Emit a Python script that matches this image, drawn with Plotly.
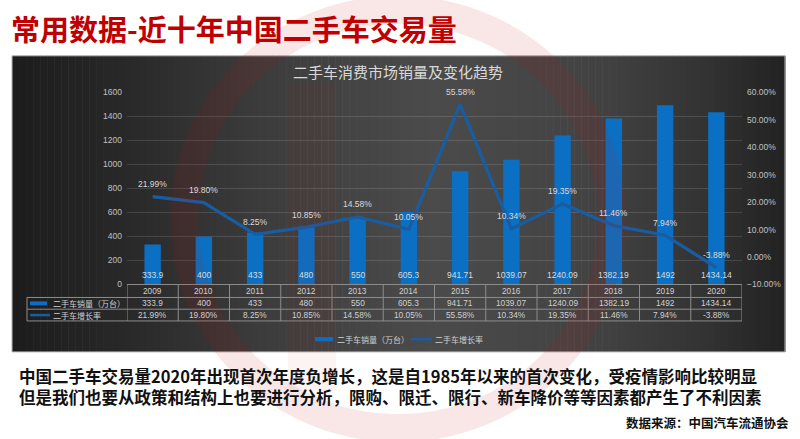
import plotly.graph_objects as go

# ---------------- data ----------------
years = ["2009", "2010", "2011", "2012", "2013", "2014",
         "2015", "2016", "2017", "2018", "2019", "2020"]
sales = [333.9, 400, 433, 480, 550, 605.3, 941.71, 1039.07, 1240.09, 1382.19, 1492, 1434.14]
sales_labels = ["333.9", "400", "433", "480", "550", "605.3", "941.71",
                "1039.07", "1240.09", "1382.19", "1492", "1434.14"]
growth = [21.99, 19.80, 8.25, 10.85, 14.58, 10.05, 55.58, 10.34, 19.35, 11.46, 7.94, -3.88]
growth_labels = ["21.99%", "19.80%", "8.25%", "10.85%", "14.58%", "10.05%", "55.58%",
                 "10.34%", "19.35%", "11.46%", "7.94%", "-3.88%"]

series_sales_name = "二手车销量（万台）"
series_growth_name = "二手车增长率"
page_title = "常用数据-近十年中国二手车交易量"
chart_title = "二手车消费市场销量及变化趋势"
body_lines = ["中国二手车交易量2020年出现首次年度负增长，这是自1985年以来的首次变化，受疫情影响比较明显",
              "但是我们也要从政策和结构上也要进行分析，限购、限迁、限行、新车降价等等因素都产生了不利因素"]
source_text = "数据来源：中国汽车流通协会"

# ---------------- styling ----------------
W, H = 800, 439
BAR_COLOR = "#0B70C4"
LINE_COLOR = "#1A5CA0"
LABEL_COLOR = "#d9d9d9"
TICK_COLOR = "#c0c0c0"
GRID_COLOR = "rgba(255,255,255,0.13)"
TABLE_LINE = "#8c8c8c"
NUM_FONT = "Liberation Sans, Arial, sans-serif"
CJK_FONT = "Noto Sans CJK SC, sans-serif"


def px(x):
    return x / W


def py(y):
    return 1 - y / H


PANEL_L, PANEL_R, PANEL_T, PANEL_B = 12, 785, 52, 355
PLOT_L, PLOT_R, PLOT_T, PLOT_B = 127, 742, 89.3, 286
ROW1_B, ROW2_B, ROW3_B = 299.3, 311.3, 323.3
TABLE_LEFT = 27

fig = go.Figure()

fig.add_trace(go.Bar(
    x=years, y=sales, width=0.32, marker=dict(color=BAR_COLOR, line=dict(width=0)),
    name=series_sales_name, showlegend=False, hoverinfo="skip"))
fig.add_trace(go.Scatter(
    x=years, y=growth, yaxis="y2", mode="lines",
    line=dict(color=LINE_COLOR, width=3.3), name=series_growth_name,
    showlegend=False, hoverinfo="skip"))

shapes = []
# panel background gradient (vertical strips)
keys = [(12, 28), (120, 40), (260, 60), (430, 75), (600, 66), (700, 52), (785, 34)]


def shade(x):
    for (x0, v0), (x1, v1) in zip(keys[:-1], keys[1:]):
        if x0 <= x <= x1:
            t = (x - x0) / (x1 - x0)
            return v0 + (v1 - v0) * t
    return keys[-1][1]


N = 110
step = (PANEL_R - PANEL_L) / N
for i in range(N):
    xa = PANEL_L + i * step
    v = int(round(shade(xa + step / 2)))
    shapes.append(dict(type="rect", xref="paper", yref="paper", layer="below",
                       x0=px(xa), x1=px(xa + step + 0.6), y0=py(PANEL_B), y1=py(PANEL_T),
                       fillcolor=f"rgb({v},{v},{v})", line=dict(width=0)))
shapes.append(dict(type="rect", xref="paper", yref="paper", layer="below",
                   x0=px(PANEL_L), x1=px(PANEL_R), y0=py(PANEL_B), y1=py(PANEL_T),
                   fillcolor="rgba(0,0,0,0)", line=dict(color="#b5b5b5", width=1)))

# data table lines
tl = dict(color=TABLE_LINE, width=1)
shapes.append(dict(type="line", xref="paper", yref="paper", x0=px(PLOT_L), x1=px(PLOT_R),
                   y0=py(PLOT_B), y1=py(PLOT_B), line=tl))
for yy in (ROW1_B, ROW2_B, ROW3_B):
    shapes.append(dict(type="line", xref="paper", yref="paper", x0=px(TABLE_LEFT), x1=px(PLOT_R),
                       y0=py(yy), y1=py(yy), line=tl))
shapes.append(dict(type="line", xref="paper", yref="paper", x0=px(TABLE_LEFT), x1=px(TABLE_LEFT),
                   y0=py(ROW1_B), y1=py(ROW3_B), line=tl))
for k in range(len(years) + 1):
    shapes.append(dict(type="line", xref="x", yref="paper", x0=k - 0.5, x1=k - 0.5,
                       y0=py(PLOT_B), y1=py(ROW3_B), line=tl))

# legend keys inside table
shapes.append(dict(type="rect", xref="paper", yref="paper", x0=px(30), x1=px(47),
                   y0=py(307.3), y1=py(303.3), fillcolor=BAR_COLOR, line=dict(width=0)))
shapes.append(dict(type="line", xref="paper", yref="paper", x0=px(30), x1=px(50),
                   y0=py(317.3), y1=py(317.3), line=dict(color=LINE_COLOR, width=2.5)))
# bottom legend keys
shapes.append(dict(type="rect", xref="paper", yref="paper", x0=px(315), x1=px(333),
                   y0=py(344.2), y1=py(339.8), fillcolor=BAR_COLOR, line=dict(width=0)))
shapes.append(dict(type="line", xref="paper", yref="paper", x0=px(411), x1=px(432),
                   y0=py(342), y1=py(342), line=dict(color=LINE_COLOR, width=2.5)))

# faint watermark logo
cx, cy, r = 398, 219, 214
shapes.append(dict(type="circle", xref="paper", yref="paper", layer="above",
                   x0=px(cx - r), x1=px(cx + r), y0=py(cy + r), y1=py(cy - r),
                   fillcolor="rgba(0,0,0,0)", line=dict(color="rgba(200,20,20,0.10)", width=28)))
shapes.append(dict(type="rect", xref="paper", yref="paper", layer="above",
                   x0=px(288), x1=px(336), y0=py(395), y1=py(80),
                   fillcolor="rgba(200,20,20,0.05)", line=dict(width=0)))

annotations = []


def ann(text, x, y, size, color, family=NUM_FONT, xanchor="center", xref="paper", yref="paper",
        yshift=0, bold=False, align="center"):
    t = f"<b>{text}</b>" if bold else text
    annotations.append(dict(text=t, x=x, y=y, xref=xref, yref=yref, xanchor=xanchor,
                            yanchor="middle", yshift=yshift, showarrow=False, align=align,
                            font=dict(size=size, color=color, family=family)))


# page texts
ann(page_title, px(9), py(23.5), 29, "#C00000", CJK_FONT, xanchor="left", bold=True)
ann(chart_title, px(398), py(68), 15, "#d9d9d9", CJK_FONT)
ann("<b>" + body_lines[0] + "</b><br><b>" + body_lines[1] + "</b>", px(17), py(390.5), 16.5,
    "#111111", CJK_FONT, xanchor="left", align="left")
ann(source_text, px(791), py(427), 12.5, "#111111", CJK_FONT, xanchor="right", bold=True)

# point labels (category index positions on the x axis)
for i, (v, lab) in enumerate(zip(sales, sales_labels)):
    ann(lab, i, 0, 8.5, LABEL_COLOR, xref="x", yref="y", yshift=9.5)
for i, (g, lab) in enumerate(zip(growth, growth_labels)):
    ann(lab, i, g, 8.5, LABEL_COLOR, xref="x", yref="y2", yshift=12.5)

# table contents
for i, (yr, lab, glab) in enumerate(zip(years, sales_labels, growth_labels)):
    ann(yr, i, py((PLOT_B + ROW1_B) / 2), 8.3, "#d0d0d0", xref="x")
    ann(lab, i, py((ROW1_B + ROW2_B) / 2), 8.3, "#d0d0d0", xref="x")
    ann(glab, i, py((ROW2_B + ROW3_B) / 2), 8.3, "#d0d0d0", xref="x")
ann(series_sales_name, px(51), py((ROW1_B + ROW2_B) / 2), 8, "#d0d0d0", CJK_FONT, xanchor="left")
ann(series_growth_name, px(51), py((ROW2_B + ROW3_B) / 2), 8, "#d0d0d0", CJK_FONT, xanchor="left")
ann(series_sales_name, px(335), py(342), 8, "#d0d0d0", CJK_FONT, xanchor="left")
ann(series_growth_name, px(433), py(342), 8, "#d0d0d0", CJK_FONT, xanchor="left")

fig.update_layout(
    width=W, height=H, margin=dict(l=0, r=0, t=0, b=0),
    paper_bgcolor="white", plot_bgcolor="rgba(0,0,0,0)",
    shapes=shapes, annotations=annotations, bargap=0.68,
    xaxis=dict(domain=[px(PLOT_L), px(PLOT_R)], type="category", range=[-0.5, 11.5],
               showticklabels=False, showgrid=False, zeroline=False, showline=False, ticks=""),
    yaxis=dict(domain=[py(PLOT_B), py(PLOT_T)], range=[0, 1600], dtick=200,
               showgrid=True, gridcolor=GRID_COLOR, gridwidth=1, zeroline=False, showline=False,
               ticks="", ticklabelstandoff=4,
               tickfont=dict(size=8.5, color=TICK_COLOR, family=NUM_FONT)),
    yaxis2=dict(overlaying="y", side="right", range=[-10, 60], dtick=10,
                tickformat=".2f", ticksuffix="%", showgrid=False, zeroline=False, showline=False,
                ticks="", ticklabelstandoff=4,
                tickfont=dict(size=8.5, color=TICK_COLOR, family=NUM_FONT)),
)

fig.write_html("out.html")
